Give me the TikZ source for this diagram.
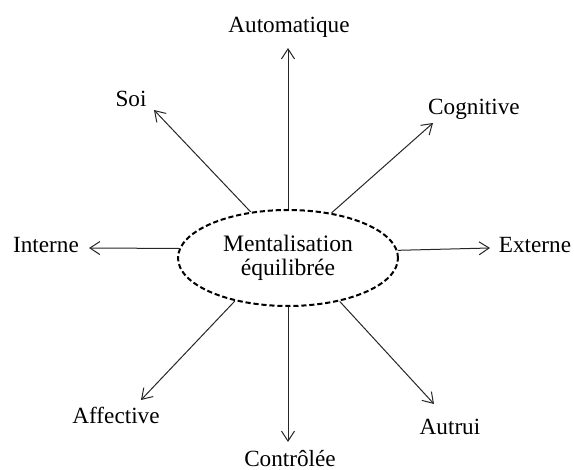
\documentclass[tikz,border=0pt]{standalone}
\usepackage{fontspec}
\setmainfont{Liberation Serif}
\usetikzlibrary{shapes.geometric,arrows.meta}
\begin{document}
\begin{tikzpicture}[x=0.5pt,y=-0.5pt,
  lbl/.style={anchor=base,inner sep=0pt,font=\fontsize{11.6}{14}\selectfont},
  core/.style={ellipse,draw=black,line width=1pt,dash pattern=on 2.6pt off 1.4pt,
    minimum width=110pt,minimum height=48pt,inner sep=0pt,align=center,
    font=\fontsize{11.8}{13}\selectfont},
  ray/.style={draw=black!85,line width=0.5pt,-{Straight Barb[length=5pt,width=6.5pt]}}]
  \useasboundingbox (0,0) rectangle (574,470);

  % central notion
  \node[core] (c) at (288,258) {Mentalisation\\[-1pt]équilibrée};

  % polarity labels
  \node[lbl] (auto) at (289,33) {Automatique};
  \node[lbl] (ctrl) at (290,467) {Contrôlée};
  \node[lbl] (int)  at (46,253)  {Interne};
  \node[lbl] (ext)  at (535,253) {Externe};
  \node[lbl] (soi)  at (131,107) {Soi};
  \node[lbl] (cog)  at (474,115) {Cognitive};
  \node[lbl] (aff)  at (116,424) {Affective};
  \node[lbl] (aut)  at (450,435) {Autrui};

  % arrow tips
  \coordinate (tA) at (288,48);
  \coordinate (tD) at (288,442);
  \coordinate (tI) at (89,248);
  \coordinate (tE) at (490,248);
  \coordinate (tS) at (154,110);
  \coordinate (tC) at (433,123);
  \coordinate (tF) at (141,400);
  \coordinate (tR) at (434,404);

  % dimensions radiating from the centre
  \draw[ray] (c.north) -- (tA);
  \draw[ray] (c.south) -- (tD);
  \draw[ray] (c.175.3) -- (tI);
  \draw[ray] (c.4.7)   -- (tE);
  \draw[ray] (c.129.7) -- (tS);
  \draw[ray] (c.46.9)  -- (tC);
  \draw[ray] (c.219.6) -- (tF);
  \draw[ray] (c.320.1) -- (tR);
\end{tikzpicture}
\end{document}
